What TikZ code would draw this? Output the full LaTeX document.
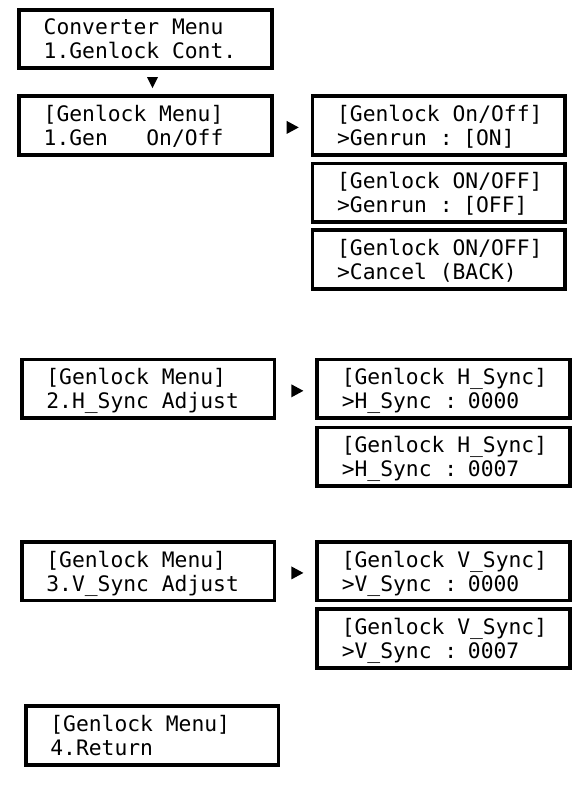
\documentclass[tikz,border=0pt]{standalone}
\usepackage{fontspec}
\newfontfamily\lcdfont{DejaVu Sans Mono}
\usetikzlibrary{positioning}
\newcommand\lcdsize{\lcdfont\fontsize{18.2}{20.5}\selectfont}
\newcommand\lcdrow[1]{\smash{\spaceskip=\fontdimen2\font\relax #1}\rule[-1pt]{0pt}{15.4pt}}
\newcommand\lcd[2]{\lcdrow{#1}\\\lcdrow{#2}}

\begin{document}
\begin{tikzpicture}[
    lcdbox/.style={draw, line width=3.2pt, font=\lcdsize,
                   align=left, inner xsep=0.735cm, text width=6.11cm,
                   minimum width=7.58cm, minimum height=1.76cm},
    tipright/.pic={\fill (0,0.195) -- (0.36,0) -- (0,-0.195) -- cycle;},
    tipdown/.pic={\fill (-0.165,0) -- (0.165,0) -- (0,-0.33) -- cycle;}
  ]
    \useasboundingbox (0,0) rectangle (17.46,-23.58);

    \node[lcdbox] (conv)   at (4.365,-1.17)         {\lcd{Converter Menu}{1.Genlock Cont.}};
    \node[lcdbox] (gm1)    [below=0.72cm of conv]   {\lcd{[Genlock Menu]}{1.Gen\ \ \ On/Off}};
    \node[lcdbox] (onoff1) [right=1.11cm of gm1]    {\lcd{[Genlock On/Off]}{>Genrun : [ON]}};
    \node[lcdbox] (onoff2) [below=0.15cm of onoff1] {\lcd{[Genlock ON/OFF]}{>Genrun : [OFF]}};
    \node[lcdbox] (onoff3) [below=0.13cm of onoff2] {\lcd{[Genlock ON/OFF]}{>Cancel (BACK)}};

    \node[lcdbox] (gm2) [below=6.03cm of gm1, xshift=0.08cm] {\lcd{[Genlock Menu]}{2.H\_Sync Adjust}};
    \node[lcdbox] (hs1) [right=1.17cm of gm2]    {\lcd{[Genlock H\_Sync]}{>H\_Sync : 0000}};
    \node[lcdbox] (hs2) [below=0.17cm of hs1]    {\lcd{[Genlock H\_Sync]}{>H\_Sync : 0007}};

    \node[lcdbox] (gm3) [below=3.6cm of gm2]     {\lcd{[Genlock Menu]}{3.V\_Sync Adjust}};
    \node[lcdbox] (vs1) [right=1.17cm of gm3]    {\lcd{[Genlock V\_Sync]}{>V\_Sync : 0000}};
    \node[lcdbox] (vs2) [below=0.15cm of vs1]    {\lcd{[Genlock V\_Sync]}{>V\_Sync : 0007}};

    \node[lcdbox] (gm4) [below=3.06cm of gm3, xshift=0.12cm] {\lcd{[Genlock Menu]}{4.Return}};

    \coordinate (t0) at ([xshift=0.21cm,yshift=-0.21cm]conv.south);
    \coordinate (t1) at ([xshift=0.39cm,yshift=-0.06cm]gm1.east);
    \coordinate (t2) at ([xshift=0.45cm,yshift=-0.06cm]gm2.east);
    \coordinate (t3) at ([xshift=0.45cm,yshift=-0.05cm]gm3.east);
    \pic at (t0) {tipdown};
    \pic at (t1) {tipright};
    \pic at (t2) {tipright};
    \pic at (t3) {tipright};
  \end{tikzpicture}
\end{document}
